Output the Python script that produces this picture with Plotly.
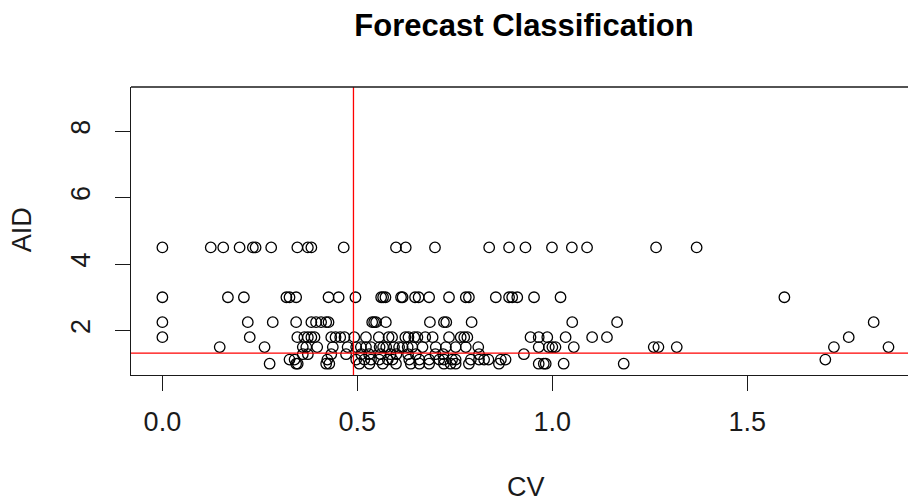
import plotly.graph_objects as go

# Coefficient of variation (CV) per item, grouped by average inter-demand interval (AID)
aid_levels = [4.5, 3.0, 2.25, 1.8, 1.5, 9 / 7, 1.125, 1.0]

cv_aid_4_5 = [0.0, 0.124, 0.156, 0.198, 0.232, 0.239, 0.279, 0.346, 0.373, 0.382, 0.465,
              0.599, 0.624, 0.699, 0.838, 0.889, 0.931, 0.999, 1.050, 1.089, 1.266, 1.370]
cv_aid_3_0 = [0.0, 0.168, 0.209, 0.318, 0.326, 0.343, 0.426, 0.452, 0.495, 0.561, 0.566,
              0.572, 0.612, 0.616, 0.648, 0.657, 0.684, 0.735, 0.778, 0.786, 0.855, 0.889,
              0.897, 0.910, 0.953, 1.021, 1.595]
cv_aid_2_25 = [0.0, 0.219, 0.283, 0.343, 0.382, 0.394, 0.407, 0.420, 0.426, 0.538, 0.543,
               0.548, 0.573, 0.686, 0.722, 0.728, 0.793, 1.051, 1.166, 1.824]
cv_aid_1_8 = [0.0, 0.224, 0.346, 0.364, 0.373, 0.382, 0.390, 0.433, 0.444, 0.456, 0.467,
              0.492, 0.522, 0.555, 0.580, 0.589, 0.623, 0.631, 0.646, 0.654, 0.674, 0.693,
              0.735, 0.765, 0.774, 0.782, 0.944, 0.965, 0.987, 1.034, 1.102, 1.140, 1.760]
cv_aid_1_5 = [0.147, 0.262, 0.360, 0.369, 0.397, 0.437, 0.475, 0.497, 0.509, 0.522, 0.535,
              0.557, 0.566, 0.574, 0.594, 0.607, 0.616, 0.629, 0.641, 0.667, 0.701, 0.727,
              0.752, 0.778, 0.810, 0.965, 0.991, 1.000, 1.008, 1.055, 1.260, 1.272, 1.319,
              1.722, 1.862]
cv_aid_1_29 = [0.360, 0.373, 0.433, 0.471, 0.510, 0.530, 0.560, 0.585, 0.600, 0.630, 0.650,
               0.700, 0.720, 0.812, 0.927]
cv_aid_1_125 = [0.326, 0.339, 0.423, 0.497, 0.518, 0.535, 0.556, 0.578, 0.590, 0.633, 0.659,
                0.684, 0.710, 0.722, 0.743, 0.752, 0.791, 0.812, 0.825, 0.836, 0.868, 0.880,
                1.700]
cv_aid_1_0 = [0.275, 0.343, 0.347, 0.420, 0.428, 0.505, 0.531, 0.565, 0.599, 0.637, 0.659,
              0.684, 0.722, 0.739, 0.752, 0.786, 0.863, 0.965, 0.978, 0.983, 1.029, 1.183]

cv_groups = [cv_aid_4_5, cv_aid_3_0, cv_aid_2_25, cv_aid_1_8, cv_aid_1_5,
             cv_aid_1_29, cv_aid_1_125, cv_aid_1_0]

# Classification cut-offs
cv_cutoff = 0.49
aid_cutoff = 1.32

x_ticks = [0.0, 0.5, 1.0, 1.5]
x_tick_labels = ["0.0", "0.5", "1.0", "1.5"]
y_ticks = [2, 4, 6, 8]

cv = []
aid = []
for level, group in zip(aid_levels, cv_groups):
    cv.extend(group)
    aid.extend([level] * len(group))

FONT = "Liberation Sans, Arial, sans-serif"
INK = "#1a1a1a"

fig = go.Figure()
fig.add_trace(go.Scatter(
    x=cv, y=aid, mode="markers",
    marker=dict(symbol="circle-open", size=10.5, color="black", line=dict(width=1.3, color="black")),
    showlegend=False, hoverinfo="x+y",
))

# cut-off lines
fig.add_shape(type="line", xref="x", yref="paper", x0=cv_cutoff, x1=cv_cutoff, y0=0, y1=1,
              line=dict(color="red", width=1.3))
fig.add_shape(type="line", xref="paper", yref="y", x0=0, x1=1, y0=aid_cutoff, y1=aid_cutoff,
              line=dict(color="red", width=1.3))
# top edge of the plot frame
fig.add_shape(type="line", xref="paper", yref="paper", x0=0, x1=1, y0=1, y1=1,
              line=dict(color=INK, width=1.3))

fig.update_layout(
    width=908, height=501,
    margin=dict(l=131, r=0, t=87, b=126),
    paper_bgcolor="white", plot_bgcolor="white",
    font=dict(family=FONT, color=INK),
    title=dict(text="<b>Forecast Classification</b>", font=dict(size=31, color="black"),
               x=524 / 908, xref="container", xanchor="center",
               y=1 - 25 / 501, yref="container", yanchor="middle"),
    annotations=[
        dict(text="CV", xref="paper", yref="paper", x=0.508, y=-0.389,
             showarrow=False, font=dict(size=27, color=INK), xanchor="center", yanchor="middle"),
        dict(text="AID", xref="paper", yref="paper", x=-0.140, y=0.503, textangle=-90,
             showarrow=False, font=dict(size=27, color=INK), xanchor="center", yanchor="middle"),
    ],
)

fig.update_xaxes(
    range=[-0.0805, 1.912], showgrid=False, zeroline=False,
    showline=True, linecolor=INK, linewidth=1.3,
    tickmode="array", tickvals=x_ticks, ticktext=x_tick_labels,
    ticks="outside", ticklen=15, tickwidth=1.3, tickcolor=INK,
    tickfont=dict(size=27, color=INK), ticklabelstandoff=7,
)
fig.update_yaxes(
    range=[0.66, 9.33], showgrid=False, zeroline=False,
    showline=True, linecolor=INK, linewidth=1.3,
    tickmode="array", tickvals=y_ticks,
    ticks="outside", ticklen=15, tickwidth=1.3, tickcolor=INK, tickangle=-90,
    tickfont=dict(size=27, color=INK), ticklabelstandoff=14,
)

fig.write_html("out.html")
